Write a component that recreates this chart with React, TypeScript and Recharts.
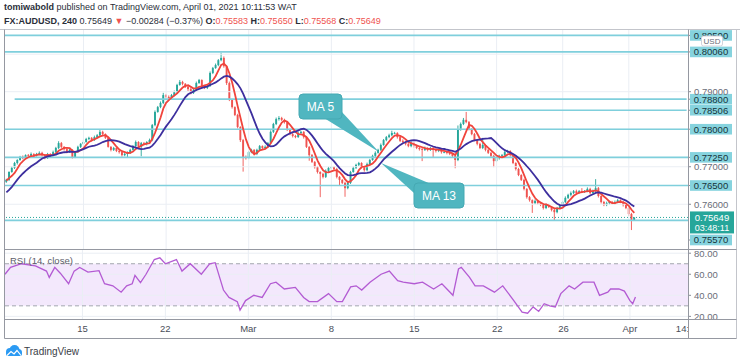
import React from 'react';
import { ComposedChart, Bar, Line, XAxis, YAxis, ReferenceLine, ReferenceArea } from 'recharts';

// ---------- DATA ----------
// 4H closes before the visible window (only used to warm up the moving averages)
const priorClose = [0.7590, 0.7595, 0.7600, 0.7590, 0.7585, 0.7595, 0.7610, 0.7625, 0.7640, 0.7650, 0.7655, 0.7665, 0.7672, 0.7660];

// visible 4H closes, Feb 8 08:00 -> Apr 1 08:00
const close = [
  0.7665, 0.7686, 0.7697, 0.7710, 0.7718, 0.7726, 0.7723, 0.7731, 0.7729, 0.7734,
  0.7729, 0.7734, 0.7737, 0.7731, 0.7723, 0.7734, 0.7729, 0.7739, 0.7750, 0.7763,
  0.7753, 0.7747, 0.7739, 0.7745, 0.7726, 0.7739, 0.7753, 0.7761, 0.7766, 0.7774,
  0.7777, 0.7771, 0.7779, 0.7784, 0.7793, 0.7787, 0.7777, 0.7753, 0.7745, 0.7750,
  0.7742, 0.7739, 0.7731, 0.7734, 0.7737, 0.7745, 0.7755, 0.7766, 0.7753, 0.7763,
  0.7761, 0.7766, 0.7771, 0.7811, 0.7846, 0.7859, 0.7870, 0.7891, 0.7886, 0.7883,
  0.7891, 0.7899, 0.7918, 0.7926, 0.7921, 0.7913, 0.7907, 0.7897, 0.7905, 0.7923,
  0.7931, 0.7915, 0.7910, 0.7915, 0.7950, 0.7963, 0.7971, 0.7984, 0.7990, 0.7968,
  0.7923, 0.7878, 0.7859, 0.7838, 0.7806, 0.7771, 0.7726, 0.7723, 0.7739, 0.7745,
  0.7734, 0.7745, 0.7755, 0.7750, 0.7753, 0.7763, 0.7793, 0.7814, 0.7827, 0.7830,
  0.7825, 0.7819, 0.7798, 0.7787, 0.7782, 0.7779, 0.7790, 0.7793, 0.7779, 0.7753,
  0.7731, 0.7713, 0.7699, 0.7686, 0.7681, 0.7673, 0.7689, 0.7697, 0.7699, 0.7694,
  0.7673, 0.7665, 0.7657, 0.7643, 0.7657, 0.7686, 0.7697, 0.7705, 0.7710, 0.7699,
  0.7691, 0.7707, 0.7718, 0.7729, 0.7737, 0.7745, 0.7758, 0.7771, 0.7779, 0.7784,
  0.7790, 0.7790, 0.7779, 0.7769, 0.7766, 0.7761, 0.7755, 0.7763, 0.7755, 0.7750,
  0.7747, 0.7745, 0.7750, 0.7745, 0.7750, 0.7745, 0.7742, 0.7745, 0.7739, 0.7739,
  0.7737, 0.7734, 0.7729, 0.7718, 0.7798, 0.7814, 0.7825, 0.7819, 0.7801, 0.7787,
  0.7771, 0.7761, 0.7750, 0.7758, 0.7745, 0.7737, 0.7729, 0.7715, 0.7723, 0.7729,
  0.7731, 0.7739, 0.7742, 0.7731, 0.7710, 0.7694, 0.7678, 0.7665, 0.7641, 0.7619,
  0.7611, 0.7603, 0.7609, 0.7603, 0.7598, 0.7590, 0.7598, 0.7593, 0.7585, 0.7579,
  0.7590, 0.7595, 0.7606, 0.7617, 0.7625, 0.7630, 0.7635, 0.7630, 0.7635, 0.7633,
  0.7635, 0.7641, 0.7630, 0.7635, 0.7643, 0.7622, 0.7606, 0.7598, 0.7603, 0.7606,
  0.7603, 0.7606, 0.7611, 0.7606, 0.7598, 0.7590, 0.7574, 0.75583, 0.75649,
];

// wick lengths above the body / below the body, in pips
const upperWickPips = [
  3, 2, 4, 3, 2, 3, 4, 2, 3, 4,
  2, 3, 4, 3, 2, 3, 2, 4, 3, 5,
  3, 2, 3, 4, 2, 3, 3, 2, 4, 3,
  3, 2, 4, 3, 5, 3, 2, 3, 2, 3,
  2, 3, 2, 3, 4, 3, 3, 4, 2, 3,
  3, 2, 4, 3, 4, 3, 4, 6, 3, 4,
  3, 4, 3, 5, 3, 2, 4, 3, 3, 4,
  3, 2, 3, 3, 4, 3, 4, 3, 14, 4,
  3, 4, 3, 2, 3, 2, 3, 4, 3, 3,
  2, 3, 3, 2, 4, 3, 4, 3, 4, 5,
  3, 3, 2, 4, 3, 3, 4, 3, 2, 3,
  2, 3, 2, 3, 2, 3, 4, 3, 3, 2,
  3, 2, 2, 3, 4, 3, 4, 3, 3, 2,
  3, 4, 3, 3, 4, 3, 4, 3, 3, 4,
  6, 3, 2, 3, 4, 3, 2, 4, 3, 2,
  3, 3, 4, 2, 3, 3, 2, 3, 2, 3,
  2, 3, 2, 3, 12, 4, 5, 21, 3, 2,
  3, 2, 3, 19, 2, 3, 2, 3, 4, 3,
  3, 4, 3, 2, 3, 2, 3, 2, 3, 2,
  3, 2, 4, 3, 2, 3, 4, 3, 2, 3,
  3, 4, 3, 4, 3, 4, 3, 4, 3, 8,
  3, 4, 3, 4, 24, 3, 2, 3, 4, 3,
  3, 4, 3, 2, 3, 2, 3, 3, 0,
];
const lowerWickPips = [
  3, 3, 2, 3, 4, 2, 3, 3, 2, 3,
  3, 2, 3, 4, 3, 2, 3, 2, 3, 3,
  3, 4, 3, 2, 4, 3, 2, 3, 3, 2,
  3, 4, 2, 3, 3, 4, 3, 2, 4, 3,
  3, 4, 4, 3, 10, 3, 2, 3, 4, 25,
  3, 4, 2, 3, 3, 2, 3, 3, 4, 3,
  2, 3, 3, 2, 4, 3, 5, 4, 3, 3,
  2, 4, 3, 3, 2, 3, 2, 3, 3, 4,
  5, 3, 4, 3, 4, 5, 39, 4, 3, 3,
  4, 3, 2, 4, 3, 3, 2, 3, 3, 4,
  3, 4, 3, 3, 4, 3, 2, 3, 4, 3,
  15, 3, 4, 4, 62, 4, 3, 3, 4, 3,
  4, 15, 3, 23, 3, 3, 2, 3, 3, 4,
  4, 3, 3, 2, 3, 2, 3, 2, 3, 3,
  3, 3, 4, 3, 3, 4, 3, 3, 4, 3,
  4, 30, 3, 4, 3, 20, 4, 3, 4, 3,
  4, 3, 4, 22, 3, 2, 3, 3, 4, 3,
  3, 4, 3, 3, 4, 3, 4, 16, 3, 4,
  3, 3, 2, 4, 3, 4, 3, 3, 4, 4,
  4, 26, 3, 4, 3, 4, 3, 3, 4, 21,
  3, 3, 2, 3, 3, 4, 3, 3, 2, 3,
  3, 3, 4, 3, 3, 4, 4, 3, 3, 4,
  3, 4, 3, 3, 4, 3, 5, 27, 1.5,
];

// RSI(14) readings taken off the lower pane: bar index -> value
const rsiBar = [
  0, 2, 6, 11, 15, 16, 18, 20, 23, 25,
  27, 30, 34, 36, 39, 42, 44, 46, 47, 49,
  51, 54, 56, 58, 62, 64, 67, 71, 74, 76,
  79, 81, 84, 85, 87, 90, 93, 96, 98, 101,
  105, 108, 110, 113, 117, 120, 122, 125, 127, 129,
  132, 136, 139, 142, 144, 148, 151, 155, 158, 162,
  164, 165, 168, 170, 173, 177, 180, 184, 187, 189,
  191, 193, 195, 197, 199, 201, 204, 206, 209, 213,
  215, 218, 219, 222, 224, 226, 227, 228,
];
const rsiValue = [
  60, 66.6, 70, 68, 63, 57, 66.6, 61, 51, 63,
  66.5, 62, 63.4, 51, 49, 43, 49, 51, 59, 52,
  60, 74, 75.6, 70, 74, 63, 70, 60, 70, 71,
  45, 38, 34, 26, 35, 40, 38, 51, 52.5, 46,
  47.5, 38, 34, 34, 41.6, 34, 34, 48, 49, 45,
  52.5, 60, 63, 54, 52.5, 51, 52.5, 46, 51, 40,
  65, 66.6, 57, 49, 49, 43, 49, 35, 24, 23,
  29, 24.7, 32, 30, 29, 41.6, 49, 46, 52.5, 52.5,
  40, 43, 46, 46, 44, 35, 32, 38.5,
];

const futureBarCount = 19; // empty space right of the last bar

const timeTickIndex = [28, 58, 88, 118, 148, 178, 202, 226, 245];
const timeTickLabel = ['15', '22', 'Mar', '8', '15', '22', '26', 'Apr', '14:'];

const priceTicks = [0.76, 0.77, 0.78, 0.79, 0.8];
const levelPrices = [0.805, 0.8006, 0.788, 0.78506, 0.78, 0.7725, 0.765, 0.7557];
const levelStartIndex = [0, 0, 3, 148, 0, 0, 0, 0];
const lastPrice = 0.75649;
const countdown = '03:48:11';
const rsiTicks = [20, 40, 60, 80];
const rsiBand = [30, 70];

// ---------- TABLE ----------
const allClose = [...priorClose, ...close];
const P = priorClose.length;
const sma = (j: number, n: number) => {
  let s = 0;
  for (let m = j - n + 1; m <= j; m++) s += allClose[m];
  return s / n;
};
const rsiAt: Record<number, number> = {};
rsiBar.forEach((b, n) => { rsiAt[b] = rsiValue[n]; });

const rows: any[] = close.map((c, k) => {
  const j = k + P;
  const o = allClose[j - 1];
  const h = Math.max(o, c) + upperWickPips[k] / 10000;
  const l = Math.min(o, c) - lowerWickPips[k] / 10000;
  return { i: k, o, c, h, l, range: [l, h], ma5: sma(j, 5), ma13: sma(j, 13), rsi: rsiAt[k] };
});
for (let f = 0; f < futureBarCount; f++) rows.push({ i: close.length + f });
const lastCat = rows.length - 1;

// ---------- STYLE ----------
const FONT = '"Liberation Sans", Arial, sans-serif';
const UP = '#26a69a';
const DOWN = '#ef5350';
const LEVEL = '#7fcfdc';
const GRID = '#eaeef4';
const FRAME = '#9598a1';
const W = 740;
const PLOT_L = 5;
const AXIS_W = 52;

const Candle = (props: any) => {
  const { x, y, width, height, payload } = props;
  if (!payload || payload.h == null) return <g />;
  const top = Math.min(y, y + height);
  const hh = Math.abs(height);
  const span = payload.h - payload.l;
  const ppu = span > 0 ? hh / span : 0;
  const yO = top + (payload.h - payload.o) * ppu;
  const yC = top + (payload.h - payload.c) * ppu;
  const color = payload.c >= payload.o ? UP : DOWN;
  const cx = x + width / 2;
  const bt = Math.min(yO, yC);
  const bh = Math.max(Math.abs(yC - yO), 0.8);
  return (
    <g>
      <line x1={cx} x2={cx} y1={top} y2={top + hh} stroke={color} strokeWidth={0.9} />
      <rect x={cx - 0.95} y={bt} width={1.9} height={bh} fill={color} />
    </g>
  );
};

const levelLabel = (price: number, dy: number) => (p: any) => {
  const vb = p.viewBox || {};
  const x0 = vb.x + vb.width;
  const yy = vb.y + dy;
  return (
    <g>
      <line x1={x0} x2={x0 + 3} y1={yy} y2={yy} stroke="#8a8e99" />
      <rect x={x0 + 2} y={yy - 5.3} width={42} height={10.6} fill="#86d3de" />
      <text x={x0 + 23} y={yy + 3.4} textAnchor="middle" fontSize={9.5} fill="#17343a" fontFamily={FONT}>
        {price.toFixed(5)}
      </text>
    </g>
  );
};

const lastLabel = (p: any) => {
  const vb = p.viewBox || {};
  const x0 = vb.x + vb.width;
  const yy = vb.y;
  return (
    <g>
      <rect x={x0 + 2} y={yy - 6} width={44} height={22} fill={UP} />
      <text x={x0 + 24} y={yy + 3.4} textAnchor="middle" fontSize={9.5} fill="#ffffff" fontFamily={FONT}>
        {lastPrice.toFixed(5)}
      </text>
      <text x={x0 + 24} y={yy + 13.6} textAnchor="middle" fontSize={9} fill="#ffffff" fontFamily={FONT}>
        {countdown}
      </text>
    </g>
  );
};

const PriceTick = (p: any) => {
  const v = Number(p.payload?.value);
  if (levelPrices.some((l) => Math.abs(l - v) < 0.0012)) return <g />;
  return (
    <g>
      <line x1={p.x - 6} x2={p.x - 3} y1={p.y} y2={p.y} stroke="#8a8e99" />
      <text x={p.x} y={p.y + 3.4} fontSize={9.5} fill="#6a6d78" fontFamily={FONT}>
        {v.toFixed(5)}
      </text>
    </g>
  );
};

const RsiTick = (p: any) => {
  const v = Number(p.payload?.value);
  return (
    <g>
      <line x1={p.x - 6} x2={p.x - 3} y1={p.y} y2={p.y} stroke="#8a8e99" />
      <text x={p.x} y={p.y + 3.4} fontSize={9.5} fill="#6a6d78" fontFamily={FONT}>
        {v.toFixed(2)}
      </text>
    </g>
  );
};

const TimeTick = (p: any) => {
  const idx = timeTickIndex.indexOf(Number(p.payload?.value));
  if (idx < 0) return <g />;
  return (
    <text x={p.x} y={p.y + 8} textAnchor="middle" fontSize={9.5} fill="#4a4e59" fontFamily={FONT}>
      {timeTickLabel[idx]}
    </text>
  );
};

export default function App() {
  const red = '#ef5350';
  return (
    <div style={{ position: 'absolute', left: 0, top: 0, width: W, height: 364, background: '#fff', overflow: 'hidden', fontFamily: FONT }}>
      {/* header */}
      <div style={{ position: 'absolute', left: 4, top: 0.5, fontSize: 9, lineHeight: '12px', color: '#2a2e39', whiteSpace: 'nowrap' }}>
        <b>tomiwabold</b> published on TradingView.com, April 01, 2021 10:11:53 WAT
      </div>
      <div style={{ position: 'absolute', left: 4, top: 14.5, fontSize: 9, lineHeight: '12px', color: '#2a2e39', whiteSpace: 'nowrap' }}>
        <b>FX:AUDUSD, 240</b> 0.75649 <span style={{ color: red }}>▼</span> −0.00284 (−0.37%) <b>O:</b>
        <span style={{ color: red }}>0.75583</span> <b>H:</b><span style={{ color: red }}>0.75650</span> <b>L:</b>
        <span style={{ color: red }}>0.75568</span> <b>C:</b><span style={{ color: red }}>0.75649</span>
      </div>

      {/* main price panel */}
      <div style={{ position: 'absolute', left: 0, top: 29 }}>
        <ComposedChart width={W} height={220} data={rows} margin={{ top: 0, right: 0, bottom: 0, left: PLOT_L }}>
          <XAxis dataKey="i" type="category" hide />
          <YAxis
            orientation="right"
            width={AXIS_W}
            domain={[0.74808, 0.80671]}
            allowDataOverflow
            ticks={priceTicks}
            interval={0}
            axisLine={false}
            tickLine={false}
            tickSize={4}
            tickMargin={2}
            tick={<PriceTick />}
          />
          {timeTickIndex.slice(0, 8).map((t) => (
            <ReferenceLine key={'vx' + t} x={t} stroke={GRID} strokeWidth={1} />
          ))}
          {priceTicks.map((t) => (
            <ReferenceLine key={'hy' + t} y={t} stroke={GRID} strokeWidth={1} />
          ))}
          <Bar dataKey="range" shape={<Candle />} isAnimationActive={false} />
          {levelPrices.map((lp, n) =>
            levelStartIndex[n] > 0 ? (
              <ReferenceLine
                key={'seg' + n}
                segment={[{ x: levelStartIndex[n], y: lp }, { x: lastCat, y: lp }]}
                stroke={LEVEL}
                strokeWidth={1.7}
              />
            ) : null
          )}
          {levelPrices.map((lp, n) => (
            <ReferenceLine
              key={'lvl' + n}
              y={lp}
              stroke={levelStartIndex[n] > 0 ? 'none' : LEVEL}
              strokeWidth={1.7}
              label={levelLabel(lp, Math.abs(lp - 0.7557) < 1e-6 ? 19.6 : 0)}
            />
          ))}
          <ReferenceLine y={lastPrice} stroke={UP} strokeDasharray="1 2" strokeWidth={1} label={lastLabel} />
          <Line dataKey="ma5" stroke="#f0443c" strokeWidth={1.8} dot={false} activeDot={false} isAnimationActive={false} />
          <Line dataKey="ma13" stroke="#3d2f9e" strokeWidth={1.8} dot={false} activeDot={false} isAnimationActive={false} />
        </ComposedChart>
      </div>

      {/* RSI panel + time axis */}
      <div style={{ position: 'absolute', left: 0, top: 249 }}>
        <ComposedChart width={W} height={89} data={rows} margin={{ top: 0, right: 0, bottom: 0, left: PLOT_L }}>
          <XAxis
            dataKey="i"
            type="category"
            interval={0}
            height={19}
            axisLine={false}
            tickLine={false}
            tickSize={4}
            tickMargin={1}
            tick={<TimeTick />}
          />
          <YAxis
            orientation="right"
            width={AXIS_W}
            domain={[17.5, 84]}
            allowDataOverflow
            ticks={rsiTicks}
            interval={0}
            axisLine={false}
            tickLine={false}
            tickSize={4}
            tickMargin={2}
            tick={<RsiTick />}
          />
          <ReferenceArea y1={rsiBand[0]} y2={rsiBand[1]} fill="#f3e8fc" fillOpacity={1} stroke="none" />
          {timeTickIndex.slice(0, 8).map((t) => (
            <ReferenceLine key={'rvx' + t} x={t} stroke={GRID} strokeWidth={1} />
          ))}
          {rsiTicks.map((t) => (
            <ReferenceLine key={'rhy' + t} y={t} stroke={GRID} strokeWidth={1} />
          ))}
          <ReferenceLine y={rsiBand[1]} stroke="#a3a6af" strokeDasharray="4 3" />
          <ReferenceLine y={rsiBand[0]} stroke="#a3a6af" strokeDasharray="4 3" />
          <Line dataKey="rsi" connectNulls stroke="#b35bd3" strokeWidth={1.3} dot={false} activeDot={false} isAnimationActive={false} />
        </ComposedChart>
      </div>

      <div style={{ position: 'absolute', left: 10, top: 255, fontSize: 9.5, color: '#5d606b', whiteSpace: 'nowrap' }}>
        RSI (14, close)
      </div>

      {/* frame, callouts, badge, logo */}
      <svg width={W} height={364} style={{ position: 'absolute', left: 0, top: 0, pointerEvents: 'none' }}>
        <line x1={0} x2={W} y1={29.5} y2={29.5} stroke="#c3c5cb" />
        <line x1={4.5} x2={4.5} y1={29.5} y2={338.5} stroke={FRAME} />
        <line x1={736.5} x2={736.5} y1={29.5} y2={338.5} stroke="#c3c5cb" />
        <line x1={4.5} x2={736.5} y1={249.5} y2={249.5} stroke={FRAME} strokeWidth={1.2} />
        <line x1={4.5} x2={736.5} y1={319.5} y2={319.5} stroke={FRAME} strokeWidth={1.2} />
        <line x1={4.5} x2={736.5} y1={338.5} y2={338.5} stroke={FRAME} />
        <line x1={688.5} x2={688.5} y1={29.5} y2={338.5} stroke={FRAME} />

        <g>
          <rect x={701.5} y={36} width={21} height={10} rx={2} fill="#ffffff" stroke="#d1d4dc" />
          <text x={712} y={43.6} textAnchor="middle" fontSize={8} fill="#6a6d78" fontFamily={FONT}>USD</text>
        </g>

        <g>
          <polygon points="324,118 341,111 379,152" fill="#50b6c0" />
          <rect x={299} y={94} width={43} height={25} rx={4} fill="#50b6c0" stroke="#45a9b3" />
          <text x={320.5} y={110.5} textAnchor="middle" fontSize={12} fill="#ffffff" fontFamily={FONT}>MA 5</text>
        </g>
        <g>
          <polygon points="414,193 431,184 381,163" fill="#50b6c0" />
          <rect x={414} y={183} width={50} height={25} rx={4} fill="#50b6c0" stroke="#45a9b3" />
          <text x={439} y={199.5} textAnchor="middle" fontSize={12} fill="#ffffff" fontFamily={FONT}>MA 13</text>
        </g>

        <g transform="translate(4,345)">
          <circle cx={6} cy={7} r={4} fill="#2b9af3" />
          <circle cx={10.5} cy={5} r={5} fill="#2b9af3" />
          <circle cx={14.5} cy={7.5} r={3.5} fill="#2b9af3" />
          <rect x={2} y={7} width={16} height={4} rx={2} fill="#2b9af3" />
          <polyline points="3,10.5 7,6.5 10,9 13,5.5 17,10.5" fill="none" stroke="#ffffff" strokeWidth={1.2} />
        </g>
      </svg>
      <div style={{ position: 'absolute', left: 24, top: 344.5, fontSize: 10, lineHeight: '13px', color: '#3a3d46', whiteSpace: 'nowrap' }}>
        TradingView
      </div>
    </div>
  );
}
